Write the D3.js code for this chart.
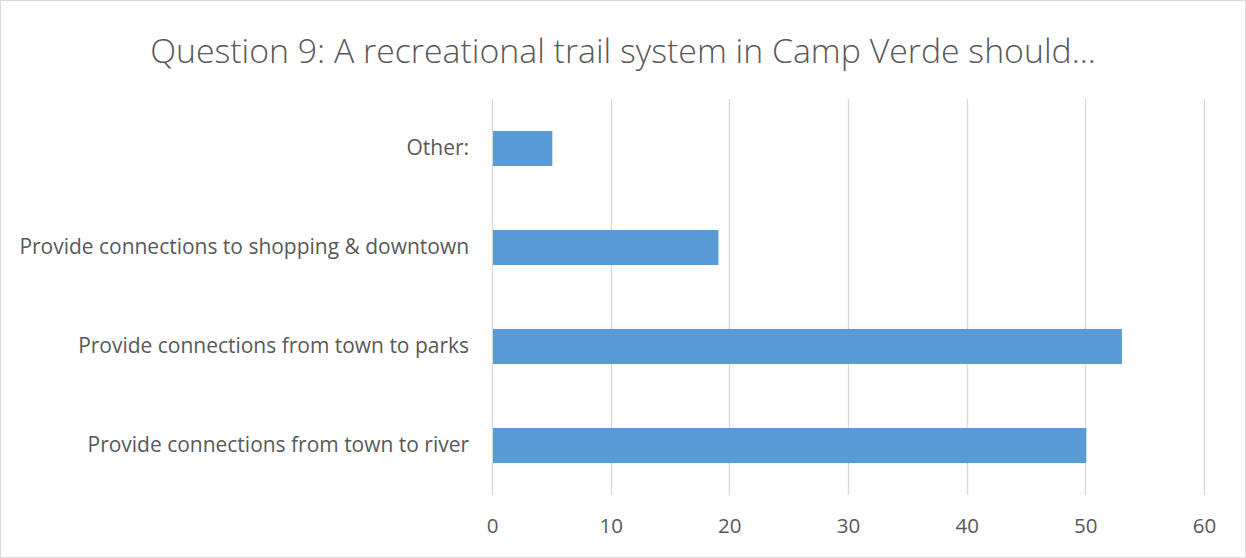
<!DOCTYPE html>
<html>
<head>
<meta charset="utf-8">
<script src="https://cdn.jsdelivr.net/npm/d3@7"></script>
<style>
  body { margin: 0; background: #fff; }
  text { font-family: "Open Sans", sans-serif; fill: #595959; }
</style>
</head>
<body>
<div id="chart"></div>
<script>
// data
var categories = ["Other:", "Provide connections to shopping & downtown", "Provide connections from town to parks", "Provide connections from town to river"];
var counts = [5, 19, 53, 50];
var xTicks = [0, 10, 20, 30, 40, 50, 60];
var title = "Question 9: A recreational trail system in Camp Verde should...";

var width = 1246, height = 558;
var margin = { top: 99, right: 42, bottom: 63, left: 492 };
var plotW = width - margin.left - margin.right;
var plotH = height - margin.top - margin.bottom;

var svg = d3.select("#chart")
  .append("svg")
  .attr("width", width)
  .attr("height", height);

// outer border
svg.append("rect")
  .attr("x", 0.5).attr("y", 0.5)
  .attr("width", width - 1).attr("height", height - 1)
  .attr("fill", "#fff")
  .attr("stroke", "#d9d9d9");

var g = svg.append("g")
  .attr("transform", "translate(" + margin.left + "," + margin.top + ")");

var xScale = d3.scaleLinear().domain([0, 60]).range([0, plotW]);
var yScale = d3.scaleBand()
  .domain(categories)
  .range([0, plotH])
  .paddingInner(0.646)
  .paddingOuter(0.323);

// gridlines
g.selectAll("line.grid")
  .data(xTicks)
  .enter()
  .append("line")
  .attr("class", "grid")
  .attr("x1", function(d) { return Math.round(xScale(d)) + 0.5; })
  .attr("x2", function(d) { return Math.round(xScale(d)) + 0.5; })
  .attr("y1", 0)
  .attr("y2", plotH)
  .attr("stroke", "#d9d9d9")
  .attr("stroke-width", 1.3);

// bars
g.selectAll("rect.bar")
  .data(categories)
  .enter()
  .append("rect")
  .attr("class", "bar")
  .attr("x", xScale(0) + 1)
  .attr("y", function(d) { return yScale(d); })
  .attr("width", function(d, i) { return xScale(counts[i]) - xScale(0); })
  .attr("height", yScale.bandwidth())
  .attr("fill", "#5b9bd5");

// x axis labels
var xAxis = d3.axisBottom(xScale).tickValues(xTicks).tickSize(0).tickPadding(0);
var xg = g.append("g")
  .attr("transform", "translate(0," + plotH + ")")
  .call(xAxis);
xg.select(".domain").remove();
xg.selectAll("text")
  .attr("dy", null)
  .attr("y", 38)
  .style("font-size", "20.5px")
  .attr("fill", "#595959");

// y axis labels
var yAxis = d3.axisLeft(yScale).tickSize(0).tickPadding(23);
var yg = g.append("g").call(yAxis);
yg.select(".domain").remove();
yg.selectAll("text")
  .style("font-size", "18px")
  .attr("fill", "#595959");

// fit category label size to the reference width of the longest label
var longest = 0;
yg.selectAll("text").each(function() { longest = Math.max(longest, this.getComputedTextLength()); });
var ySize = 18 * 450 / longest;
yg.selectAll("text").style("font-size", ySize + "px");

// title
var t = svg.append("text")
  .attr("x", width / 2)
  .attr("y", 63)
  .attr("text-anchor", "middle")
  .style("font-size", "28px")
  .style("font-weight", 300)
  .text(title);
var tw = t.node().getComputedTextLength();
t.style("font-size", (28 * 946 / tw) + "px");
</script>
</body>
</html>
